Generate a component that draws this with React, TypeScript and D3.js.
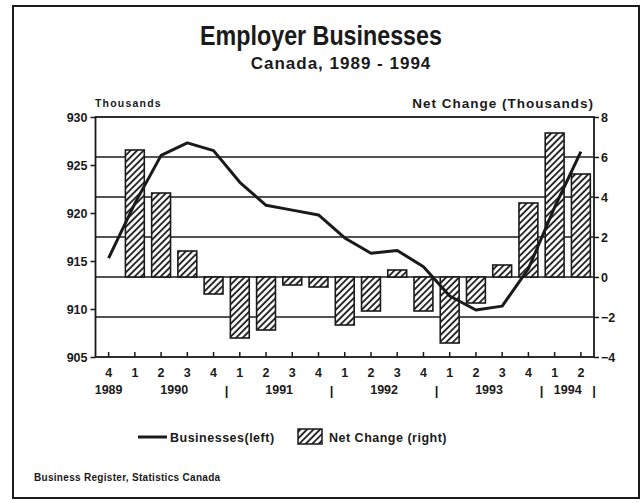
import { useEffect, useRef } from "react"
import * as d3 from "d3"

const periods = ["1989Q4", "1990Q1", "1990Q2", "1990Q3", "1990Q4", "1991Q1", "1991Q2", "1991Q3", "1991Q4",
    "1992Q1", "1992Q2", "1992Q3", "1992Q4", "1993Q1", "1993Q2", "1993Q3", "1993Q4", "1994Q1", "1994Q2"]
const quarterLabels = ["4", "1", "2", "3", "4", "1", "2", "3", "4", "1", "2", "3", "4", "1", "2", "3", "4", "1", "2"]
const years = [
    { year: "1989", first: "1989Q4", last: "1989Q4" },
    { year: "1990", first: "1990Q1", last: "1990Q4" },
    { year: "1991", first: "1991Q1", last: "1991Q4" },
    { year: "1992", first: "1992Q1", last: "1992Q4" },
    { year: "1993", first: "1993Q1", last: "1993Q4" },
    { year: "1994", first: "1994Q1", last: "1994Q2" },
]
// separators drawn after these periods
const separatorsAfter = ["1990Q4", "1991Q4", "1992Q4", "1993Q4", "1994Q2"]

// Businesses (thousands, left axis)
const businesses = [915.3, 921.0, 926.0, 927.3, 926.5, 923.2, 920.8, 920.3, 919.8,
    917.4, 915.8, 916.1, 914.4, 911.35, 909.9, 910.3, 914.2, 920.6, 926.4]
// Net change (thousands, right axis)
const netChange: (number | null)[] = [null, 6.35, 4.2, 1.3, -0.85, -3.05, -2.65, -0.4, -0.5,
    -2.4, -1.7, 0.35, -1.7, -3.3, -1.3, 0.6, 3.7, 7.2, 5.15]

const leftTicks = [930, 925, 920, 915, 910, 905]
const rightTicks = [8, 6, 4, 2, 0, -2, -4]

export default function App() {
    const ref = useRef<SVGSVGElement>(null)
    const width = 640, height = 503
    const m = { left: 95.5, right: 594, top: 117, bottom: 357 }

    useEffect(() => {
        const svg = d3.select(ref.current)
        svg.selectAll("*").remove()
        const font = "'Liberation Sans', Arial, sans-serif"
        const ink = "#1a1a1a"

        const defs = svg.append("defs")
        const pat = defs.append("pattern")
            .attr("id", "hatch")
            .attr("patternUnits", "userSpaceOnUse")
            .attr("width", 4.6).attr("height", 4.6)
            .attr("patternTransform", "rotate(45)")
        pat.append("rect").attr("width", 4.6).attr("height", 4.6).attr("fill", "#fff")
        pat.append("line")
            .attr("x1", 1).attr("y1", 0).attr("x2", 1).attr("y2", 4.6)
            .attr("stroke", ink).attr("stroke-width", 1.8)

        // frame
        svg.append("rect")
            .attr("x", 13).attr("y", 6).attr("width", 626).attr("height", 492)
            .attr("fill", "#fff").attr("stroke", ink).attr("stroke-width", 2)

        const x = d3.scaleBand().domain(periods).range([m.left, m.right]).paddingInner(0.28).paddingOuter(0.14)
        const xc = (p: string) => (x(p) as number) + x.bandwidth() / 2
        const yL = d3.scaleLinear().domain([905, 930]).range([m.bottom, m.top])
        const yR = d3.scaleLinear().domain([-4, 8]).range([m.bottom, m.top])

        // titles
        svg.append("text").attr("text-anchor", "middle")
            .attr("transform", "translate(321,45) scale(0.97,1.15)")
            .attr("font-family", font).attr("font-weight", "bold").attr("font-size", 24)
            .attr("fill", ink).text("Employer Businesses")
        svg.append("text").attr("x", 341).attr("y", 69).attr("text-anchor", "middle")
            .attr("font-family", font).attr("font-weight", "bold").attr("font-size", 17)
            .attr("letter-spacing", 1).attr("fill", ink).text("Canada, 1989 - 1994")

        svg.append("text").attr("x", 95).attr("y", 107)
            .attr("font-family", font).attr("font-weight", "bold").attr("font-size", 10.5)
            .attr("letter-spacing", 1.2).attr("fill", ink).text("Thousands")
        svg.append("text").attr("x", 594).attr("y", 108).attr("text-anchor", "end")
            .attr("font-family", font).attr("font-weight", "bold").attr("font-size", 13.5)
            .attr("letter-spacing", 1).attr("fill", ink).text("Net Change (Thousands)")

        // gridlines (right axis values)
        svg.append("g").selectAll("line").data(rightTicks.slice(1, -1)).enter().append("line")
            .attr("x1", m.left).attr("x2", m.right)
            .attr("y1", d => yR(d)).attr("y2", d => yR(d))
            .attr("stroke", ink).attr("stroke-width", 1.4)

        // bars
        const barData = periods.map((p, i) => ({ p, v: netChange[i] })).filter(d => d.v !== null) as { p: string, v: number }[]
        svg.append("g").selectAll("rect").data(barData).enter().append("rect")
            .attr("x", d => x(d.p) as number)
            .attr("width", x.bandwidth())
            .attr("y", d => yR(Math.max(0, d.v)))
            .attr("height", d => Math.abs(yR(d.v) - yR(0)))
            .attr("fill", "url(#hatch)")
            .attr("stroke", ink).attr("stroke-width", 1.6)

        // line
        const line = d3.line<number>()
            .x((_, i) => xc(periods[i]))
            .y(d => yL(d))
        svg.append("path").datum(businesses)
            .attr("d", line)
            .attr("fill", "none").attr("stroke", ink).attr("stroke-width", 3)
            .attr("stroke-linejoin", "round")

        // plot frame
        svg.append("rect")
            .attr("x", m.left).attr("y", m.top)
            .attr("width", m.right - m.left).attr("height", m.bottom - m.top)
            .attr("fill", "none").attr("stroke", ink).attr("stroke-width", 1.8)

        // left axis
        const gl = svg.append("g").attr("transform", `translate(${m.left},0)`)
            .call(d3.axisLeft(yL).tickValues(leftTicks).tickSize(5).tickPadding(3).tickFormat(d3.format("d")))
        gl.select(".domain").remove()
        gl.selectAll("line").attr("stroke", ink).attr("stroke-width", 1.5)
        gl.selectAll("text").attr("font-family", font).attr("font-weight", "bold")
            .attr("font-size", 12.5).attr("fill", ink)

        // right axis
        const gr = svg.append("g").attr("transform", `translate(${m.right},0)`)
            .call(d3.axisRight(yR).tickValues(rightTicks).tickSize(5).tickPadding(2).tickFormat(d3.format("d")))
        gr.select(".domain").remove()
        gr.selectAll("line").attr("stroke", ink).attr("stroke-width", 1.5)
        gr.selectAll("text").attr("font-family", font).attr("font-weight", "bold")
            .attr("font-size", 12.5).attr("fill", ink)

        // bottom axis: inward ticks, quarter labels
        const gb = svg.append("g").attr("transform", `translate(0,${m.bottom})`)
            .call(d3.axisBottom(x).tickSize(-5).tickPadding(11).tickFormat((_, i) => quarterLabels[i]))
        gb.select(".domain").remove()
        gb.selectAll("line").attr("stroke", ink).attr("stroke-width", 1.5)
        gb.selectAll("text").attr("font-family", font).attr("font-weight", "bold")
            .attr("font-size", 12.5).attr("fill", ink)

        // year labels
        svg.append("g").selectAll("text").data(years).enter().append("text")
            .attr("x", d => (xc(d.first) + xc(d.last)) / 2)
            .attr("y", 394).attr("text-anchor", "middle")
            .attr("font-family", font).attr("font-weight", "bold").attr("font-size", 12.5)
            .attr("fill", ink).text(d => d.year)
        svg.append("g").selectAll("text").data(separatorsAfter).enter().append("text")
            .attr("x", d => (x(d) as number) + x.bandwidth() + x.step() * x.paddingInner() / 2)
            .attr("y", 395).attr("text-anchor", "middle")
            .attr("font-family", font).attr("font-weight", "bold").attr("font-size", 13)
            .attr("fill", ink).text("|")

        // legend
        const lg = svg.append("g")
        lg.append("line").attr("x1", 138).attr("x2", 167).attr("y1", 437).attr("y2", 437)
            .attr("stroke", ink).attr("stroke-width", 3)
        lg.append("text").attr("x", 170).attr("y", 441.5)
            .attr("font-family", font).attr("font-weight", "bold").attr("font-size", 12.5)
            .attr("letter-spacing", 0.5).attr("fill", ink).text("Businesses(left)")
        lg.append("rect").attr("x", 298).attr("y", 429).attr("width", 24).attr("height", 15)
            .attr("fill", "url(#hatch)").attr("stroke", ink).attr("stroke-width", 1.5)
        lg.append("text").attr("x", 329).attr("y", 441.5)
            .attr("font-family", font).attr("font-weight", "bold").attr("font-size", 12.5)
            .attr("letter-spacing", 0.5).attr("fill", ink).text("Net Change (right)")

        svg.append("text").attr("x", 34).attr("y", 481)
            .attr("font-family", font).attr("font-weight", "bold").attr("font-size", 10)
            .attr("letter-spacing", 0.3).attr("fill", ink).text("Business Register, Statistics Canada")
    }, [])

    return (
        <svg ref={ref} width={width} height={height}
            style={{ position: "absolute", left: 0, top: 0, background: "#fff" }} />
    )
}
